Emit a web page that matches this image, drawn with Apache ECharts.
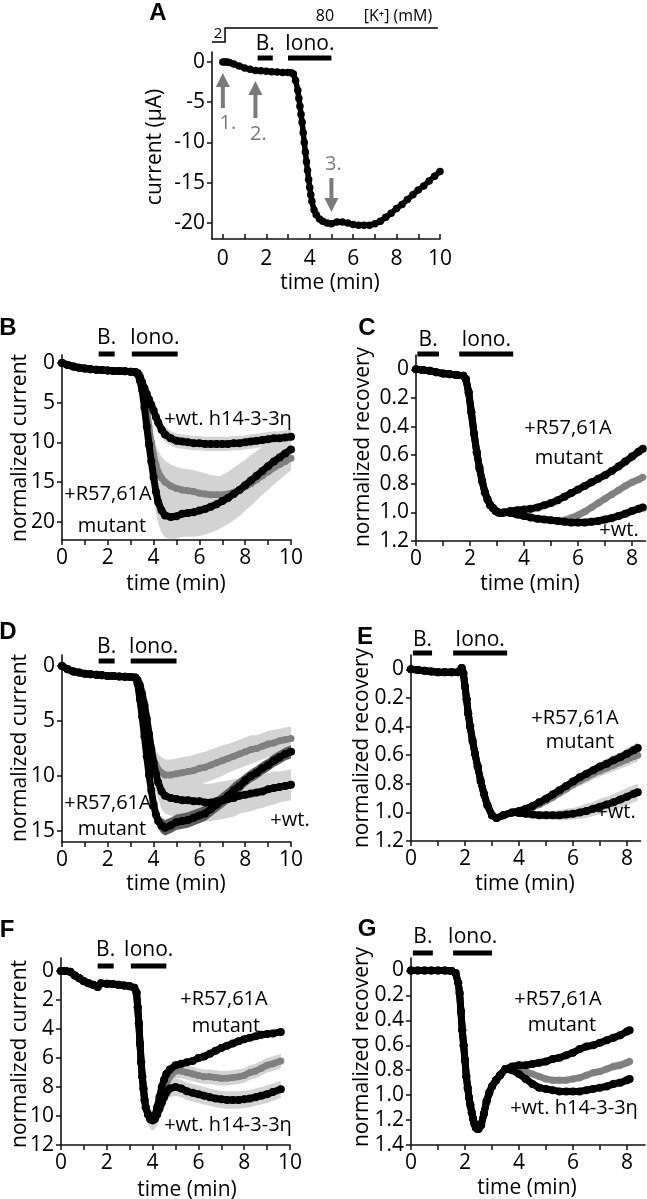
<!DOCTYPE html>
<html><head><meta charset="utf-8">
<script src="https://cdn.jsdelivr.net/npm/echarts@6.0.0/dist/echarts.min.js"></script>
<style>html,body{margin:0;padding:0;background:#fff;}#chart{width:647px;height:1199px;}</style>
</head><body><div id="chart"></div>
<script>
// ---------------- DATA ----------------
// Panel A: raw current (uA) vs time (min)
const tA = [0,0.1,0.2,0.3,0.5,0.75,1,1.25,1.5,1.75,2,2.25,2.5,2.75,3,3.15,3.25,3.35,3.45,3.5,3.55,3.6,3.65,3.7,3.75,3.8,3.85,3.9,3.95,4,4.05,4.1,4.2,4.3,4.45,4.6,4.8,5,5.25,5.5,5.75,6,6.25,6.5,6.75,7,7.25,7.5,7.75,8,8.25,8.5,8.75,9,9.25,9.5,9.75,10];
const iA = [0,0,0,-0.05,-0.25,-0.5,-0.75,-0.9,-1.05,-1.1,-1.15,-1.2,-1.25,-1.3,-1.3,-1.35,-1.5,-2.3,-3.5,-4.5,-5.5,-6.5,-7.5,-8.8,-10,-11.2,-12.4,-13.5,-14.6,-15.6,-16.5,-17.3,-18.4,-19.0,-19.5,-19.8,-20.0,-20.1,-19.9,-19.9,-20.0,-20.2,-20.3,-20.3,-20.3,-20.1,-19.8,-19.3,-18.8,-18.2,-17.7,-17.1,-16.5,-15.9,-15.4,-14.8,-14.2,-13.6];

// Panel B: normalized current
const tB = [0,0.25,0.5,0.75,1,1.25,1.5,1.75,2,2.25,2.5,2.75,3,3.2,3.3,3.4,3.5,3.6,3.7,3.8,3.9,4,4.1,4.2,4.35,4.5,4.75,5,5.25,5.5,5.75,6,6.25,6.5,6.75,7,7.25,7.5,7.75,8,8.25,8.5,8.75,9,9.25,9.5,9.75,10];
const mutB = [0,0.25,0.45,0.6,0.7,0.78,0.85,0.9,0.95,1.0,1.03,1.06,1.1,1.15,1.4,2.2,3.4,5.6,8.0,10.3,12.4,14.4,16.2,17.5,18.6,19.2,19.4,19.3,19.0,18.9,18.8,18.6,18.4,18.1,17.8,17.4,17.0,16.5,16.0,15.4,14.8,14.2,13.6,13.0,12.4,11.9,11.4,10.9];
const grayB = [0,0.25,0.45,0.6,0.7,0.78,0.85,0.9,0.95,1.0,1.03,1.06,1.1,1.15,1.2,1.5,2.2,3.6,5.8,8.0,10.0,11.6,12.8,13.7,14.5,15.0,15.5,15.8,16.0,16.1,16.2,16.4,16.5,16.6,16.6,16.6,16.5,16.3,16.0,15.6,15.2,14.7,14.2,13.7,13.2,12.8,12.4,12.0];
const wtB = [0,0.25,0.45,0.6,0.7,0.78,0.85,0.9,0.95,1.0,1.03,1.06,1.1,1.15,1.3,1.8,2.5,3.2,3.9,4.6,5.3,6.0,6.8,7.5,8.4,9.0,9.5,9.8,9.9,10.0,10.1,10.1,10.2,10.2,10.2,10.2,10.2,10.1,10.1,10.0,9.9,9.8,9.7,9.6,9.5,9.5,9.4,9.3];
const errMutB = [0.1,0.1,0.1,0.1,0.1,0.1,0.1,0.1,0.1,0.1,0.1,0.1,0.1,0.1,0.3,0.6,1.0,1.5,2.0,2.3,2.5,2.6,2.7,2.7,2.8,2.8,2.8,2.8,2.9,3.0,3.1,3.2,3.2,3.3,3.3,3.3,3.3,3.3,3.3,3.2,3.2,3.1,3.0,3.0,2.9,2.8,2.7,2.6];
const errGrayB = [0.1,0.1,0.1,0.1,0.1,0.1,0.1,0.1,0.1,0.1,0.1,0.1,0.1,0.1,0.2,0.4,0.7,1.0,1.4,1.8,2.1,2.3,2.5,2.6,2.7,2.7,2.7,2.7,2.7,2.7,2.7,2.7,2.6,2.5,2.4,2.3,2.1,2.0,1.8,1.6,1.5,1.4,1.3,1.2,1.1,1.0,1.0,0.9];
const errWtB = [0.1,0.1,0.1,0.1,0.1,0.1,0.1,0.1,0.1,0.1,0.1,0.1,0.1,0.1,0.2,0.3,0.4,0.5,0.6,0.7,0.8,0.9,0.9,0.9,0.9,0.9,0.9,0.9,0.9,0.9,0.9,0.9,0.9,0.9,0.9,0.9,0.9,0.9,0.9,0.9,0.9,0.9,0.9,0.9,0.9,0.9,0.9,0.9];

// Panel C: normalized recovery
const tC = [0,0.25,0.5,0.75,1,1.25,1.5,1.75,1.85,1.95,2.05,2.15,2.25,2.35,2.45,2.55,2.65,2.75,2.85,2.95,3.05,3.15,3.25,3.5,3.75,4,4.25,4.5,4.75,5,5.25,5.5,5.75,6,6.25,6.5,6.75,7,7.25,7.5,7.75,8,8.25,8.4];
const mutC = [0,0.005,0.01,0.02,0.03,0.035,0.04,0.045,0.07,0.16,0.3,0.45,0.58,0.69,0.78,0.86,0.91,0.95,0.97,0.99,1.0,1.005,1.0,0.99,0.985,0.98,0.975,0.965,0.95,0.935,0.915,0.89,0.865,0.84,0.815,0.79,0.765,0.74,0.71,0.68,0.645,0.61,0.575,0.555];
const grayC = [0,0.005,0.01,0.02,0.03,0.035,0.04,0.045,0.07,0.16,0.3,0.45,0.58,0.69,0.78,0.86,0.91,0.95,0.97,0.99,1.0,1.005,1.0,1.005,1.015,1.025,1.035,1.045,1.05,1.055,1.06,1.055,1.04,1.02,0.995,0.965,0.935,0.905,0.875,0.845,0.815,0.79,0.77,0.755];
const wtC = [0,0.005,0.01,0.02,0.03,0.035,0.04,0.045,0.07,0.16,0.3,0.45,0.58,0.69,0.78,0.86,0.91,0.95,0.97,0.99,1.0,1.005,1.0,1.005,1.015,1.025,1.035,1.045,1.05,1.055,1.06,1.065,1.07,1.07,1.07,1.065,1.06,1.05,1.04,1.025,1.01,0.99,0.975,0.965];
const errGrayC = [0.01,0.01,0.01,0.01,0.01,0.01,0.01,0.01,0.01,0.01,0.01,0.01,0.01,0.01,0.01,0.01,0.01,0.01,0.01,0.01,0.01,0.01,0.01,0.02,0.02,0.02,0.02,0.02,0.02,0.025,0.025,0.03,0.03,0.03,0.03,0.03,0.03,0.03,0.03,0.03,0.03,0.03,0.03,0.03];
const errWtC = [0.01,0.01,0.01,0.01,0.01,0.01,0.01,0.01,0.01,0.01,0.01,0.01,0.01,0.01,0.01,0.01,0.01,0.01,0.01,0.01,0.01,0.01,0.01,0.02,0.02,0.02,0.02,0.02,0.02,0.025,0.025,0.03,0.03,0.03,0.03,0.03,0.03,0.03,0.03,0.03,0.03,0.03,0.03,0.03];

// Panel D: normalized current
const tD = [0,0.25,0.5,0.75,1,1.25,1.5,1.75,2,2.25,2.5,2.75,3,3.2,3.3,3.4,3.5,3.6,3.7,3.8,3.9,4,4.1,4.2,4.35,4.5,4.75,5,5.25,5.5,5.75,6,6.25,6.5,6.75,7,7.25,7.5,7.75,8,8.25,8.5,8.75,9,9.25,9.5,9.75,10];
const mutD = [0,0.3,0.5,0.6,0.7,0.75,0.8,0.85,0.9,0.92,0.95,0.98,1.0,1.05,1.6,3.0,4.6,6.4,8.2,9.9,11.3,12.6,13.5,14.1,14.5,14.7,14.5,14.2,14.1,14.0,13.8,13.6,13.4,13.0,12.6,12.2,11.8,11.3,10.9,10.4,10.0,9.7,9.3,9.0,8.6,8.3,8.0,7.8];
const grayD = [0,0.3,0.5,0.6,0.7,0.75,0.8,0.85,0.9,0.92,0.95,0.98,1.0,1.05,1.2,1.6,2.3,3.3,4.6,6.0,7.3,8.4,9.0,9.4,9.7,9.9,9.9,9.8,9.7,9.6,9.5,9.3,9.2,9.0,8.8,8.6,8.4,8.2,8.0,7.8,7.6,7.5,7.3,7.1,7.0,6.8,6.7,6.6];
const wtD = [0,0.3,0.5,0.6,0.7,0.75,0.8,0.85,0.9,0.92,0.95,0.98,1.0,1.05,1.3,1.8,2.6,3.6,4.8,6.2,7.6,8.8,9.8,10.6,11.4,11.8,12.0,12.1,12.2,12.2,12.3,12.3,12.4,12.4,12.3,12.2,12.1,12.0,11.8,11.7,11.6,11.5,11.4,11.2,11.1,11.0,10.9,10.8];
const errMutD = [0.05,0.05,0.05,0.05,0.05,0.05,0.05,0.05,0.05,0.05,0.05,0.05,0.05,0.05,0.1,0.2,0.3,0.4,0.5,0.6,0.7,0.7,0.7,0.7,0.7,0.7,0.7,0.7,0.7,0.7,0.7,0.7,0.7,0.7,0.7,0.7,0.7,0.7,0.7,0.6,0.6,0.6,0.6,0.6,0.6,0.6,0.6,0.6];
const errGrayD = [0.1,0.1,0.1,0.1,0.1,0.1,0.1,0.1,0.1,0.1,0.1,0.1,0.1,0.1,0.2,0.3,0.5,0.7,0.9,1.1,1.2,1.3,1.3,1.4,1.4,1.4,1.4,1.4,1.4,1.4,1.4,1.4,1.4,1.4,1.4,1.4,1.3,1.3,1.3,1.3,1.3,1.2,1.2,1.2,1.2,1.1,1.1,1.1];
const errWtD = [0.1,0.1,0.1,0.1,0.1,0.1,0.1,0.1,0.1,0.1,0.1,0.1,0.1,0.1,0.2,0.3,0.4,0.5,0.6,0.8,1.0,1.2,1.4,1.5,1.6,1.6,1.6,1.6,1.6,1.7,1.7,1.7,1.7,1.7,1.7,1.7,1.7,1.7,1.6,1.6,1.6,1.5,1.5,1.5,1.5,1.4,1.4,1.4];

// Panel E: normalized recovery
const tE = [0,0.25,0.5,0.75,1,1.25,1.5,1.75,1.88,1.94,2.0,2.06,2.12,2.19,2.28,2.37,2.47,2.58,2.7,2.83,3.0,3.17,3.42,3.75,4,4.25,4.5,4.75,5,5.25,5.5,5.75,6,6.25,6.5,6.75,7,7.25,7.5,7.75,8,8.25,8.4];
const mutE = [0,0.005,0.01,0.015,0.02,0.02,0.02,0.02,-0.01,0.03,0.12,0.21,0.31,0.4,0.5,0.59,0.68,0.78,0.87,0.95,1.02,1.04,1.02,1.0,0.99,0.975,0.955,0.93,0.905,0.875,0.845,0.815,0.785,0.755,0.73,0.705,0.68,0.66,0.635,0.615,0.59,0.565,0.55];
const grayE = [0,0.005,0.01,0.015,0.02,0.02,0.02,0.02,-0.01,0.03,0.12,0.21,0.31,0.4,0.5,0.59,0.68,0.78,0.87,0.95,1.02,1.04,1.02,1.0,0.99,0.98,0.965,0.945,0.92,0.895,0.865,0.835,0.805,0.78,0.755,0.73,0.71,0.69,0.67,0.65,0.63,0.61,0.6];
const wtE = [0,0.005,0.01,0.015,0.02,0.02,0.02,0.02,-0.01,0.03,0.12,0.21,0.31,0.4,0.5,0.59,0.68,0.78,0.87,0.95,1.02,1.04,1.02,1.0,1.005,1.01,1.015,1.02,1.02,1.02,1.02,1.015,1.01,1.0,0.99,0.975,0.96,0.945,0.93,0.91,0.89,0.87,0.86];
const errMutE = [0.01,0.01,0.01,0.01,0.01,0.01,0.01,0.01,0.01,0.01,0.01,0.01,0.01,0.01,0.01,0.01,0.01,0.01,0.01,0.01,0.01,0.01,0.01,0.02,0.02,0.02,0.02,0.02,0.03,0.03,0.03,0.03,0.03,0.03,0.03,0.03,0.035,0.035,0.035,0.035,0.04,0.04,0.04];
const errGrayE = [0.01,0.01,0.01,0.01,0.01,0.01,0.01,0.01,0.01,0.01,0.01,0.01,0.01,0.01,0.01,0.01,0.01,0.01,0.01,0.01,0.01,0.01,0.01,0.02,0.02,0.02,0.02,0.03,0.03,0.03,0.03,0.035,0.035,0.035,0.04,0.04,0.04,0.04,0.045,0.045,0.045,0.045,0.045];
const errWtE = [0.01,0.01,0.01,0.01,0.01,0.01,0.01,0.01,0.01,0.01,0.01,0.01,0.01,0.01,0.01,0.01,0.01,0.01,0.01,0.01,0.01,0.01,0.01,0.02,0.02,0.02,0.02,0.03,0.03,0.03,0.035,0.04,0.04,0.045,0.05,0.05,0.055,0.055,0.06,0.06,0.06,0.06,0.06];

// Panel F: normalized current
const tF = [0,0.2,0.4,0.6,0.8,1,1.2,1.4,1.6,1.75,2,2.25,2.5,2.75,3,3.2,3.3,3.35,3.4,3.45,3.5,3.55,3.6,3.65,3.7,3.8,3.9,4,4.1,4.2,4.3,4.4,4.5,4.6,4.75,5,5.25,5.5,5.75,6,6.25,6.5,6.75,7,7.25,7.5,7.75,8,8.25,8.5,8.75,9,9.25,9.6];
const mutF = [0,0,0.05,0.3,0.5,0.7,0.85,0.95,1.1,0.85,0.88,0.9,0.95,1.0,1.05,1.15,1.5,2.5,3.6,5.0,6.3,7.3,8.1,8.9,9.4,9.9,10.2,10.3,10.0,9.4,8.7,8.0,7.5,7.1,6.8,6.5,6.4,6.3,6.2,6.0,5.9,5.7,5.5,5.3,5.15,5.0,4.85,4.7,4.6,4.5,4.4,4.35,4.3,4.2];
const grayF = [0,0,0.05,0.3,0.5,0.7,0.85,0.95,1.1,0.85,0.88,0.9,0.95,1.0,1.05,1.15,1.5,2.5,3.6,5.0,6.3,7.3,8.1,8.9,9.4,9.9,10.2,10.3,10.2,9.8,9.3,8.7,8.2,7.8,7.3,6.9,6.9,7.0,7.1,7.2,7.3,7.3,7.35,7.4,7.4,7.35,7.3,7.2,7.0,6.9,6.7,6.5,6.4,6.2];
const wtF = [0,0,0.05,0.3,0.5,0.7,0.85,0.95,1.1,0.85,0.88,0.9,0.95,1.0,1.05,1.15,1.5,2.5,3.6,5.0,6.3,7.3,8.1,8.9,9.4,9.9,10.2,10.3,10.2,9.9,9.5,9.1,8.7,8.4,8.1,8.0,8.1,8.3,8.4,8.5,8.6,8.7,8.8,8.85,8.9,8.9,8.9,8.85,8.8,8.7,8.6,8.5,8.35,8.15];
const errGrayF = [0.1,0.1,0.1,0.1,0.1,0.1,0.1,0.1,0.1,0.1,0.1,0.1,0.1,0.1,0.1,0.1,0.1,0.2,0.3,0.4,0.5,0.5,0.5,0.5,0.6,0.6,0.6,0.6,0.6,0.6,0.6,0.5,0.5,0.5,0.5,0.5,0.5,0.5,0.5,0.5,0.5,0.5,0.5,0.5,0.5,0.5,0.5,0.5,0.5,0.5,0.5,0.5,0.5,0.5];
const errWtF = [0.1,0.1,0.1,0.1,0.1,0.1,0.1,0.1,0.1,0.1,0.1,0.1,0.1,0.1,0.1,0.1,0.1,0.2,0.3,0.4,0.5,0.5,0.6,0.6,0.7,0.7,0.7,0.7,0.7,0.7,0.7,0.7,0.7,0.6,0.6,0.6,0.6,0.6,0.6,0.6,0.6,0.6,0.6,0.6,0.6,0.6,0.6,0.6,0.6,0.6,0.6,0.6,0.6,0.6];

// Panel G: normalized recovery
const tG = [0,0.25,0.5,0.75,1,1.25,1.5,1.65,1.75,1.8,1.85,1.9,1.95,2,2.05,2.1,2.15,2.2,2.25,2.3,2.35,2.4,2.45,2.5,2.6,2.7,2.8,2.9,3,3.15,3.3,3.5,3.75,4,4.25,4.5,4.75,5,5.25,5.5,5.75,6,6.25,6.5,6.75,7,7.25,7.5,7.75,8,8.1];
const mutG = [0,0,0,0,0,0,0.005,0.02,0.1,0.18,0.33,0.48,0.6,0.72,0.85,0.94,1.02,1.08,1.14,1.19,1.23,1.26,1.27,1.27,1.24,1.15,1.05,0.98,0.93,0.88,0.84,0.79,0.77,0.76,0.76,0.75,0.74,0.73,0.71,0.7,0.68,0.66,0.63,0.61,0.6,0.58,0.56,0.54,0.52,0.49,0.48];
const grayG = [0,0,0,0,0,0,0.005,0.02,0.1,0.18,0.33,0.48,0.6,0.72,0.85,0.94,1.02,1.08,1.14,1.19,1.23,1.26,1.27,1.27,1.24,1.15,1.05,0.98,0.93,0.88,0.84,0.79,0.79,0.8,0.81,0.83,0.85,0.87,0.88,0.88,0.88,0.87,0.86,0.84,0.82,0.81,0.79,0.77,0.76,0.74,0.73];
const wtG = [0,0,0,0,0,0,0.005,0.02,0.1,0.18,0.33,0.48,0.6,0.72,0.85,0.94,1.02,1.08,1.14,1.19,1.23,1.26,1.27,1.27,1.24,1.15,1.05,0.98,0.93,0.88,0.84,0.79,0.8,0.83,0.87,0.91,0.94,0.95,0.96,0.97,0.97,0.97,0.97,0.96,0.95,0.94,0.93,0.91,0.9,0.88,0.87];
const errG = [0.01,0.01,0.01,0.01,0.01,0.01,0.01,0.01,0.02,0.02,0.02,0.02,0.02,0.03,0.03,0.03,0.03,0.03,0.03,0.03,0.03,0.03,0.03,0.03,0.03,0.03,0.03,0.03,0.03,0.03,0.03,0.03,0.03,0.03,0.03,0.03,0.03,0.03,0.03,0.03,0.03,0.03,0.03,0.03,0.03,0.03,0.03,0.035,0.035,0.035,0.035];

// Axis tick values
const xTicks10 = [0,1,2,3,4,5,6,7,8,9,10];
const xLabels10 = [0,2,4,6,8,10];
const xTicks8 = [0,1,2,3,4,5,6,7,8];
const xLabels8 = [0,2,4,6,8];
const yTicksA = [0,-5,-10,-15,-20];
const yTicksB = [0,5,10,15,20];
const yTicksD = [0,5,10,15];
const yTicksF = [0,2,4,6,8,10,12];
const yTicksRec12 = [0,0.2,0.4,0.6,0.8,1.0,1.2];
const yTicksRec14 = [0,0.2,0.4,0.6,0.8,1.0,1.2,1.4];

// Treatment bars (min): bath application "B." and ionomycin "Iono." per panel A..G
const bathT = [[1.6,2.3],[1.6,2.3],[0.05,0.85],[1.6,2.3],[0.07,0.78],[1.6,2.3],[0.07,0.81]];
const ionoT = [[3.0,5.0],[3.05,5.05],[1.6,3.6],[3.0,5.0],[1.56,3.56],[3.05,4.6],[1.56,3.0]];
// Arrow times in panel A
const arrowT = [0, 1.5, 5];
// [K+] step (time of step)
const kStepT = [-0.5, 0.1, 9.9];

// ---------------- STYLE / LAYOUT ----------------
const FONT = '"Open Sans","DejaVu Sans",sans-serif';
const BLACK = '#000000', GRAY = '#808080', BAND = '#d3d3d3', DARKBAND = '#5e5e5e', ARROW = '#7a7a7a';
const AXC = '#111111';

const grids = [
  {left:212, top:52, width:228, height:187},
  {left:62, top:355, width:229, height:185},
  {left:416, top:355, width:229.5, height:186},
  {left:62, top:655, width:229, height:187},
  {left:411, top:655, width:229.5, height:186},
  {left:61, top:958, width:229, height:187},
  {left:411, top:958, width:234, height:187}
];

function xAx(gi, min, max, ticks, labels, inside) {
  return {type:'value', gridIndex:gi, min:min, max:max, position:'bottom',
    axisLine:{show:true, onZero:false, lineStyle:{color:AXC, width:1.6}},
    axisTick:{show:true, inside:!!inside, length:5, customValues:ticks, lineStyle:{color:AXC, width:1.5}},
    axisLabel:{show:true, customValues:labels, fontSize:21, color:'#000', margin: inside ? 10 : 8, fontFamily:FONT},
    splitLine:{show:false}};
}
function yAx(gi, min, max, ticks, inverse, dec) {
  return {type:'value', gridIndex:gi, min:min, max:max, inverse:!!inverse, position:'left',
    axisLine:{show:true, onZero:false, lineStyle:{color:AXC, width:1.6}},
    axisTick:{show:true, length:5, customValues:ticks, lineStyle:{color:AXC, width:1.5}},
    axisLabel:{show:true, customValues:ticks, fontSize:21, color:'#000', margin:7, fontFamily:FONT,
      formatter: dec ? function(v){ return v === 0 ? '0' : v.toFixed(1); } : function(v){ return String(v); }},
    splitLine:{show:false}};
}

const xAxes = [
  xAx(0, -0.5, 10, xTicks10, xLabels10, true),
  xAx(1, 0, 10, xTicks10, xLabels10),
  xAx(2, 0, 8.5, xTicks8, xLabels8),
  xAx(3, 0, 10, xTicks10, xLabels10),
  xAx(4, 0, 8.5, xTicks8, xLabels8),
  xAx(5, 0, 10, xTicks10, xLabels10),
  xAx(6, 0, 8.67, xTicks8, xLabels8)
];
const yAxes = [
  yAx(0, -22, 1.24, yTicksA, false, false),
  yAx(1, -1, 22.3, yTicksB, true, false),
  yAx(2, -0.1, 1.2, yTicksRec12, true, true),
  yAx(3, -1, 16, yTicksD, true, false),
  yAx(4, -0.1, 1.2, yTicksRec12, true, true),
  yAx(5, -0.9, 12, yTicksF, true, false),
  yAx(6, -0.1, 1.4, yTicksRec14, true, true)
];

function line(gi, t, v, color, z, w, s) {
  return {type:'line', xAxisIndex:gi, yAxisIndex:gi, z:z, silent:true, animation:false, clip:false,
    data: t.map(function(x,i){ return [x, v[i]]; }),
    symbol:'circle', symbolSize: s || 8, showSymbol:true, showAllSymbol:true,
    lineStyle:{color:color, width: w || 7}, itemStyle:{color:color, borderWidth:0}};
}
function band(gi, t, m, e, color, z) {
  const d = t.map(function(x,i){ return [x, m[i]-e[i], m[i]+e[i]]; });
  return {type:'custom', xAxisIndex:gi, yAxisIndex:gi, z:z, silent:true, animation:false,
    encode:{x:0, y:[1,2]}, data:d,
    renderItem:function(params, api){
      if (params.dataIndex !== 0) return null;
      const a = [], b = [];
      for (let i = 0; i < d.length; i++) {
        a.push(api.coord([d[i][0], d[i][1]]));
        b.push(api.coord([d[i][0], d[i][2]]));
      }
      return {type:'polygon', shape:{points:a.concat(b.reverse())}, style:{fill:color}};
    }};
}

const series = [
  line(0, tA, iA, BLACK, 5, 5.5, 7.5),
  band(1, tB, mutB, errMutB, BAND, 1), band(1, tB, grayB, errGrayB, BAND, 1), band(1, tB, wtB, errWtB, BAND, 1),
  line(1, tB, grayB, GRAY, 3, 6.5, 7), line(1, tB, wtB, BLACK, 4), line(1, tB, mutB, BLACK, 5),
  band(2, tC, grayC, errGrayC, BAND, 1), band(2, tC, wtC, errWtC, BAND, 1),
  line(2, tC, grayC, GRAY, 3, 6.5, 7), line(2, tC, wtC, BLACK, 4), line(2, tC, mutC, BLACK, 5),
  band(3, tD, grayD, errGrayD, BAND, 1), band(3, tD, wtD, errWtD, BAND, 1), band(3, tD, mutD, errMutD, DARKBAND, 2),
  line(3, tD, grayD, GRAY, 3, 6.5, 7), line(3, tD, wtD, BLACK, 4), line(3, tD, mutD, BLACK, 5),
  band(4, tE, grayE, errGrayE, BAND, 1), band(4, tE, wtE, errWtE, BAND, 1), band(4, tE, mutE, errMutE, BAND, 1),
  line(4, tE, grayE, GRAY, 3, 6.5, 7), line(4, tE, wtE, BLACK, 4), line(4, tE, mutE, BLACK, 5),
  band(5, tF, grayF, errGrayF, BAND, 1), band(5, tF, wtF, errWtF, BAND, 1),
  line(5, tF, grayF, GRAY, 3, 6.5, 7), line(5, tF, wtF, BLACK, 4), line(5, tF, mutF, BLACK, 5),
  band(6, tG, grayG, errG, BAND, 1), band(6, tG, mutG, errG, BAND, 1), band(6, tG, wtG, errG, BAND, 1),
  line(6, tG, grayG, GRAY, 3, 6.5, 7), line(6, tG, wtG, BLACK, 4), line(6, tG, mutG, BLACK, 5)
];

const chart = echarts.init(document.getElementById('chart'), null, {renderer:'canvas', width:647, height:1199});
chart.setOption({
  animation:false, backgroundColor:'#ffffff',
  textStyle:{fontFamily:FONT},
  grid: grids, xAxis: xAxes, yAxis: yAxes, series: series
});

// ---------------- ANNOTATIONS ----------------
function px(gi, t, v) { return chart.convertToPixel({gridIndex:gi}, [t, v]); }
function txt(text, x, y, size, opts) {
  opts = opts || {};
  return {type:'text', x:x, y:y, rotation: opts.rot || 0, silent:true, z:100,
    style:{text:text, font:(opts.bold ? 'bold ' : '') + size + 'px ' + (opts.family || FONT), fill: opts.fill || '#000',
      textAlign:'center', textVerticalAlign:'middle', align:'center', verticalAlign:'middle'}};
}
const els = [];
// panel letters
[['A',158,13],['B',8,328],['C',367,328],['D',8,632],['E',365,637],['F',7,930],['G',367,929]].forEach(function(p){
  els.push(txt(p[0], p[1], p[2], 24, {bold:true, family:'"Liberation Sans",Arial,sans-serif'}));
});
// axis names
const yNames = [['current (\u03bcA)',155,147],['normalized current',20,448],['normalized recovery',363,447],['normalized current',20,748],['normalized recovery',362,748],['normalized current',20,1054],['normalized recovery',362,1047]];
yNames.forEach(function(p){ els.push(txt(p[0], p[1], p[2], 21, {rot:Math.PI/2})); });
const xNames = [[330,283],[176,584],[530,584],[176,884],[525,884],[187,1190],[527,1188]];
xNames.forEach(function(p){ els.push(txt('time (min)', p[0], p[1], 21)); });
// treatment bars
const barY = [58,354,354,661,653,966,953];
const barTxtY = [44,338,340,647,640,950,937];
for (let gi = 0; gi < 7; gi++) {
  [[bathT[gi],'B.'],[ionoT[gi],'Iono.']].forEach(function(b){
    const x1 = px(gi, b[0][0], 0)[0], x2 = px(gi, b[0][1], 0)[0];
    els.push({type:'rect', silent:true, z:100, shape:{x:x1, y:barY[gi]-2.5, width:x2-x1, height:5}, style:{fill:'#000'}});
    els.push(txt(b[1], (x1+x2)/2, barTxtY[gi], 21));
  });
}
// series labels
[['+wt. h14-3-3\u03b7',228,419],['+R57,61A',108,494],['mutant',112,526],
 ['+R57,61A',568,428],['mutant',569,458],['+wt.',619,530],
 ['+R57,61A',108,803],['mutant',112,829],['+wt.',290,820],
 ['+R57,61A',575,718],['mutant',580,742],['+wt.',616,812],
 ['+R57,61A',224,999],['mutant',226,1026],['+wt. h14-3-3\u03b7',228,1125],
 ['+R57,61A',558,999],['mutant',562,1025],['+wt. h14-3-3\u03b7',574,1108]
].forEach(function(p){ els.push(txt(p[0], p[1], p[2], 20)); });
// panel A arrows
function arrow(x, tipY, baseY, up) {
  const d = up ? 1 : -1, hh = 14, hw = 7, sw = 2;
  const hb = tipY + d*hh;
  return {type:'polygon', silent:true, z:100, shape:{points:[[x,tipY],[x-hw,hb],[x-sw,hb],[x-sw,baseY],[x+sw,baseY],[x+sw,hb],[x+hw,hb]]}, style:{fill:ARROW}};
}
const ax0 = px(0, arrowT[0], 0)[0], ax1 = px(0, arrowT[1], 0)[0], ax2 = px(0, arrowT[2], 0)[0];
els.push(arrow(ax0, 73, 108, true));
els.push(arrow(ax1, 81, 118, true));
els.push(arrow(ax2, 212, 178, false));
els.push(txt('1.', ax0+5, 123, 20, {fill:ARROW}));
els.push(txt('2.', ax1+3, 134, 20, {fill:ARROW}));
els.push(txt('3.', ax2+2, 164, 20, {fill:ARROW}));
// [K+] step line
const k0 = px(0, kStepT[0], 0)[0], k1 = px(0, kStepT[1], 0)[0], k2 = px(0, kStepT[2], 0)[0];
els.push({type:'polyline', silent:true, z:100, shape:{points:[[k0,42],[k1,42],[k1,28],[k2,28]]}, style:{stroke:'#000', lineWidth:1.5, fill:null}});
els.push(txt('2', 218, 34, 15));
els.push(txt('80', 325, 16, 16));
els.push(txt('[K\u207a] (mM)', 398, 16, 16));

chart.setOption({graphic: els});
</script></body></html>
